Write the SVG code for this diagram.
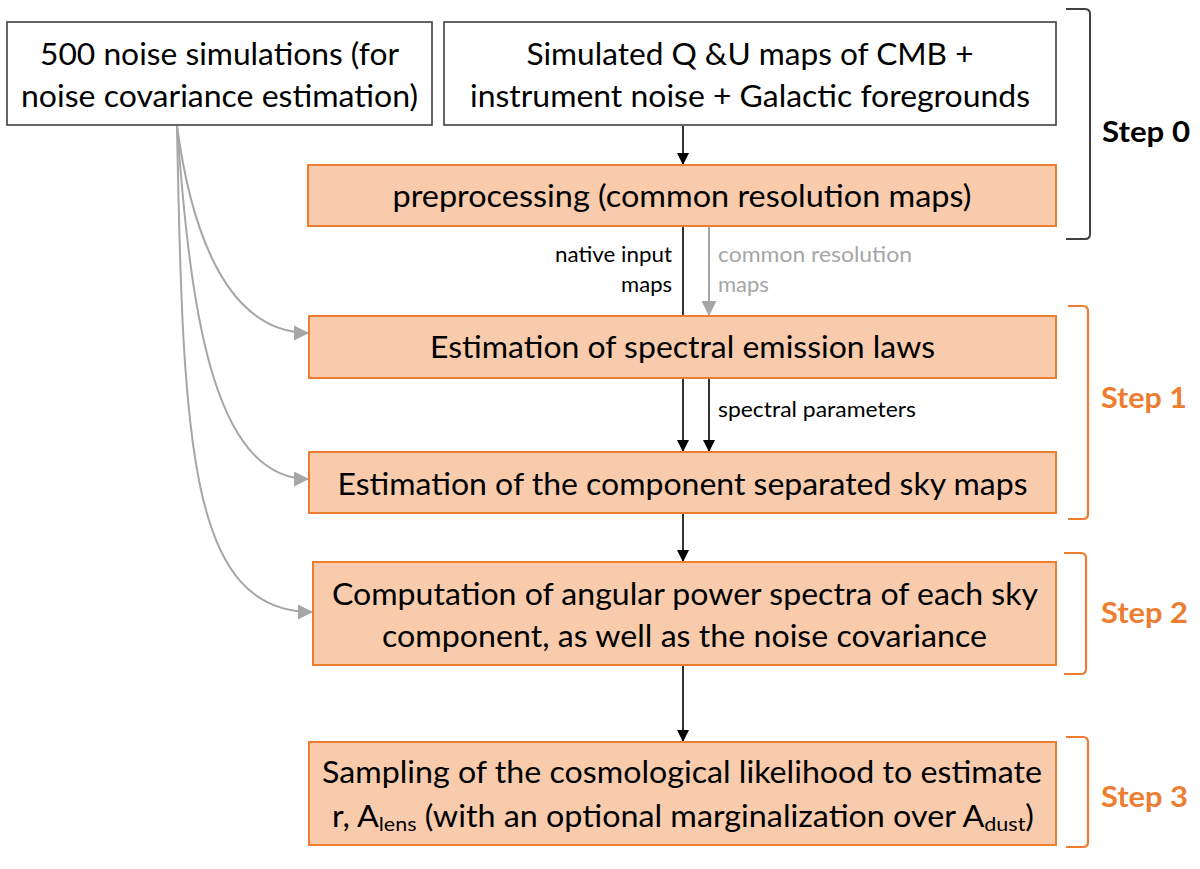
<svg xmlns="http://www.w3.org/2000/svg" width="1200" height="869" viewBox="0 0 1200 869">
<defs>
<style>
.wbox{fill:#ffffff;stroke:#404040;stroke-width:1.6}
.obox{fill:#F8CBAD;stroke:#ED7D31;stroke-width:2}
.t{font-family:Lato,"Liberation Sans",sans-serif;font-size:30px;fill:#000;text-anchor:middle}
.s{font-family:Lato,"Liberation Sans",sans-serif;font-size:22px;fill:#000}
.sg{fill:#A6A6A6}
.step{font-family:Lato,"Liberation Sans",sans-serif;font-size:29px;font-weight:bold}
.blk{stroke:#000;stroke-width:1.6;fill:none}
.gry{stroke:#A6A6A6;stroke-width:2;fill:none}
.br0{stroke:#404040;stroke-width:2;fill:none}
.bro{stroke:#ED7D31;stroke-width:2.2;fill:none}
</style>
<marker id="ab" markerUnits="userSpaceOnUse" markerWidth="12" markerHeight="12" refX="10" refY="5" orient="auto" viewBox="0 0 10 10">
<path d="M0,0 L10,5 L0,10 z" fill="#000"/>
</marker>
<marker id="ag" markerUnits="userSpaceOnUse" markerWidth="15" markerHeight="15" refX="12" refY="6" orient="auto" viewBox="0 0 12 12">
<path d="M0,0 L12,6 L0,12 z" fill="#A6A6A6"/>
</marker>
</defs>
<rect width="1200" height="869" fill="#ffffff"/>

<g id="connectors">
<line class="blk" x1="683" y1="126" x2="683" y2="165" marker-end="url(#ab)"/>
<line class="blk" x1="683" y1="227" x2="683" y2="316"/>
<line class="gry" x1="709" y1="227" x2="709" y2="316" stroke-width="1.8" marker-end="url(#ag)"/>
<line class="blk" x1="683" y1="379" x2="683" y2="452" marker-end="url(#ab)"/>
<line class="blk" x1="709" y1="379" x2="709" y2="452" marker-end="url(#ab)"/>
<line class="blk" x1="683" y1="514" x2="683" y2="562" marker-end="url(#ab)"/>
<line class="blk" x1="683" y1="666" x2="683" y2="742" marker-end="url(#ab)"/>
<path class="gry" d="M177,126 C187,200 215,333 309,333" marker-end="url(#ag)"/>
<path class="gry" d="M177,126 C190,300 210,479 309,479" marker-end="url(#ag)"/>
<path class="gry" d="M177,126 C183,450 190,612 313,612" marker-end="url(#ag)"/>
</g>

<g id="noise-sims">
<rect class="wbox" x="7" y="22" width="425" height="103"/>
<text class="t" x="219.5" y="65" textLength="359" lengthAdjust="spacingAndGlyphs">500 noise simulations (for</text>
<text class="t" x="219.5" y="107" textLength="397" lengthAdjust="spacingAndGlyphs">noise covariance estimation)</text>
</g>

<g id="simulated-maps">
<rect class="wbox" x="444" y="22" width="612" height="103"/>
<text class="t" x="750" y="65" textLength="447" lengthAdjust="spacingAndGlyphs">Simulated Q &amp;U maps of CMB +</text>
<text class="t" x="750" y="107" textLength="560" lengthAdjust="spacingAndGlyphs">instrument noise + Galactic foregrounds</text>
</g>

<g id="preprocessing">
<rect class="obox" x="308" y="165" width="748" height="61"/>
<text class="t" x="682" y="207" textLength="579" lengthAdjust="spacingAndGlyphs">preprocessing (common resolution maps)</text>
</g>

<g id="labels">
<text class="s" x="672" y="262" text-anchor="end" textLength="117" lengthAdjust="spacingAndGlyphs">native input</text>
<text class="s" x="672" y="292" text-anchor="end">maps</text>
<text class="s sg" x="718" y="262" textLength="194" lengthAdjust="spacingAndGlyphs">common resolution</text>
<text class="s sg" x="718" y="292">maps</text>
<text class="s" x="718" y="417" textLength="198" lengthAdjust="spacingAndGlyphs">spectral parameters</text>
</g>

<g id="spectral-laws">
<rect class="obox" x="309" y="316" width="747" height="62"/>
<text class="t" x="682.5" y="358" textLength="505" lengthAdjust="spacingAndGlyphs">Estimation of spectral emission laws</text>
</g>

<g id="component-maps">
<rect class="obox" x="309" y="452" width="747" height="61"/>
<text class="t" x="682.5" y="495" textLength="690" lengthAdjust="spacingAndGlyphs">Estimation of the component separated sky maps</text>
</g>

<g id="power-spectra">
<rect class="obox" x="313" y="562" width="743" height="103"/>
<text class="t" x="685" y="605" textLength="706" lengthAdjust="spacingAndGlyphs">Computation of angular power spectra of each sky</text>
<text class="t" x="684.5" y="647" textLength="605" lengthAdjust="spacingAndGlyphs">component, as well as the noise covariance</text>
</g>

<g id="likelihood">
<rect class="obox" x="309" y="742" width="747" height="103"/>
<text class="t" x="682" y="783" textLength="720" lengthAdjust="spacingAndGlyphs">Sampling of the cosmological likelihood to estimate</text>
<text class="t" x="683" y="827" textLength="702" lengthAdjust="spacingAndGlyphs">r, A<tspan font-size="20" dy="4">lens</tspan><tspan dy="-4"> (with an optional marginalization over A</tspan><tspan font-size="20" dy="4">dust</tspan><tspan dy="-4">)</tspan></text>
</g>

<g id="step0">
<path class="br0" d="M1066,9 L1085,9 Q1090,9 1090,14 L1090,234 Q1090,239 1085,239 L1066,239"/>
<text class="step" x="1102" y="142" fill="#000" textLength="88" lengthAdjust="spacingAndGlyphs">Step 0</text>
</g>
<g id="step1">
<path class="bro" d="M1068,306 L1083,306 Q1088,306 1088,311 L1088,514 Q1088,519 1083,519 L1068,519"/>
<text class="step" x="1101" y="408" fill="#ED7D31" textLength="86" lengthAdjust="spacingAndGlyphs">Step 1</text>
</g>
<g id="step2">
<path class="bro" d="M1064,553 L1081,553 Q1086,553 1086,558 L1086,669 Q1086,674 1081,674 L1064,674"/>
<text class="step" x="1101" y="623" fill="#ED7D31" textLength="87" lengthAdjust="spacingAndGlyphs">Step 2</text>
</g>
<g id="step3">
<path class="bro" d="M1066,737 L1083,737 Q1088,737 1088,742 L1088,842 Q1088,847 1083,847 L1066,847"/>
<text class="step" x="1101" y="807" fill="#ED7D31" textLength="87" lengthAdjust="spacingAndGlyphs">Step 3</text>
</g>
</svg>
